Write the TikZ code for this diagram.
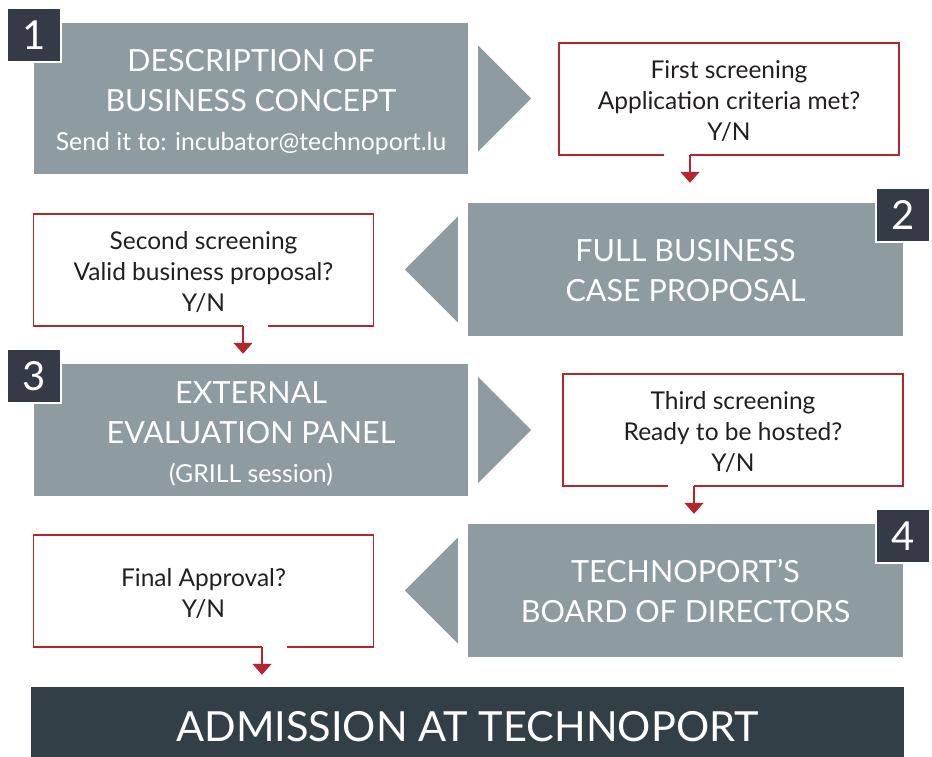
\documentclass[tikz,border=0pt]{standalone}
\usepackage{fontspec}
\setmainfont{Lato}
\usetikzlibrary{arrows.meta}
\definecolor{stepgray}{HTML}{8E9BA1}
\definecolor{badgedark}{HTML}{343A46}
\definecolor{finaldark}{HTML}{333F46}
\definecolor{screenred}{HTML}{B3262E}
\definecolor{screentext}{HTML}{231F20}
\newcommand{\pointer}[2]% anchor, direction (1 right, -1 left)
{([xshift=#2*10pt,yshift=53pt]#1) -- ([xshift=#2*63pt]#1) -- ([xshift=#2*10pt,yshift=-53pt]#1) -- cycle
}

\begin{document}
\begin{tikzpicture}[x=1pt,y=-1pt,
  stage/.style={fill=stepgray,text=white,inner sep=0pt,align=center,font=\fontsize{30.5}{40}\selectfont},
  screen/.style={inner sep=0pt,minimum width=340pt,minimum height=112pt,align=center,text=screentext,font=\fontsize{24.5}{31}\selectfont},
  screenline/.style={draw=screenred,line width=1.5pt},
  flow/.style={screenred,line width=1.5pt,-{Triangle[length=11pt,width=19pt]}},
  badge/.style={fill=badgedark,draw=white,line width=2pt,minimum size=54pt,inner sep=0pt,text=white,font=\fontsize{40}{40}\selectfont}]
\useasboundingbox (0,0) rectangle (932,757);
% stages
\node[stage,minimum width=434pt,minimum height=151pt] (desc) at (251,98.5)
  {\rule{0pt}{30pt}DESCRIPTION OF\\BUSINESS CONCEPT\\[-1pt]{\fontsize{24.8}{40}\selectfont Send it to: incubator@technoport.lu}};
\node[stage,minimum width=435pt,minimum height=133pt] (full) at (685.5,269.5) {\rule{0pt}{25pt}FULL BUSINESS\\CASE PROPOSAL};
\node[stage,minimum width=434pt,minimum height=132pt] (panel) at (251,430)
  {\rule{0pt}{29.5pt}EXTERNAL\\EVALUATION PANEL\\[-1pt]{\fontsize{24.8}{40}\selectfont (GRILL session)}};
\node[stage,minimum width=435pt,minimum height=133pt] (board) at (685.5,590.5) {TECHNOPORT’S\\BOARD OF DIRECTORS};
\node[fill=finaldark,text=white,inner sep=0pt,minimum width=873pt,minimum height=70pt,text height=39pt,text depth=0pt,font=\fontsize{41.5}{41.5}\selectfont] (admit) at (467.5,722) {ADMISSION AT TECHNOPORT};
\fill[stepgray] \pointer{desc.east}{1};
\fill[stepgray] \pointer{full.west}{-1};
\fill[stepgray] \pointer{panel.east}{1};
\fill[stepgray] \pointer{board.west}{-1};
% numbers
\node[badge] (b1) at ([yshift=-12pt]desc.north west) {1};
\node[badge] (b2) at ([yshift=-12pt]full.north east) {2};
\node[badge] (b3) at ([yshift=-12pt]panel.north west) {3};
\node[badge] (b4) at ([yshift=-12pt]board.north east) {4};
% screenings
\node[screen] (scr1) at (729,99) {\rule{0pt}{23pt}First screening\\Application criteria met?\\Y/N};
\node[screen] (scr2) at (203.5,270) {\rule{0pt}{23pt}Second screening\\Valid business proposal?\\Y/N};
\node[screen] (scr3) at (733,430) {\rule{0pt}{23pt}Third screening\\Ready to be hosted?\\Y/N};
\node[screen] (scr4) at (203.5,591) {\rule{0pt}{23pt}Final Approval?\\Y/N};
\coordinate (out1) at ([xshift=-39pt]scr1.south);
\coordinate (out2) at ([xshift=39.5pt]scr2.south);
\coordinate (out3) at ([xshift=-39pt]scr3.south);
\coordinate (out4) at ([xshift=58.5pt]scr4.south);
\draw[screenline] (out1) -| (scr1.north east) -| (scr1.south west) -- ([xshift=-26pt]out1);
\draw[screenline] (out2) -| (scr2.north west) -| (scr2.south east) -- ([xshift=25pt]out2);
\draw[screenline] (out3) -| (scr3.north east) -| (scr3.south west) -- ([xshift=-26pt]out3);
\draw[screenline] (out4) -| (scr4.north west) -| (scr4.south east) -- ([xshift=25pt]out4);
\draw[flow,shorten >=20pt] (out1) -- (out1 |- full.north);
\draw[flow,shorten >=10pt] (out2) -- (out2 |- panel.north);
\draw[flow,shorten >=10pt] (out3) -- (out3 |- board.north);
\draw[flow,shorten >=12pt] (out4) -- (out4 |- admit.north);
\end{tikzpicture}
\end{document}
